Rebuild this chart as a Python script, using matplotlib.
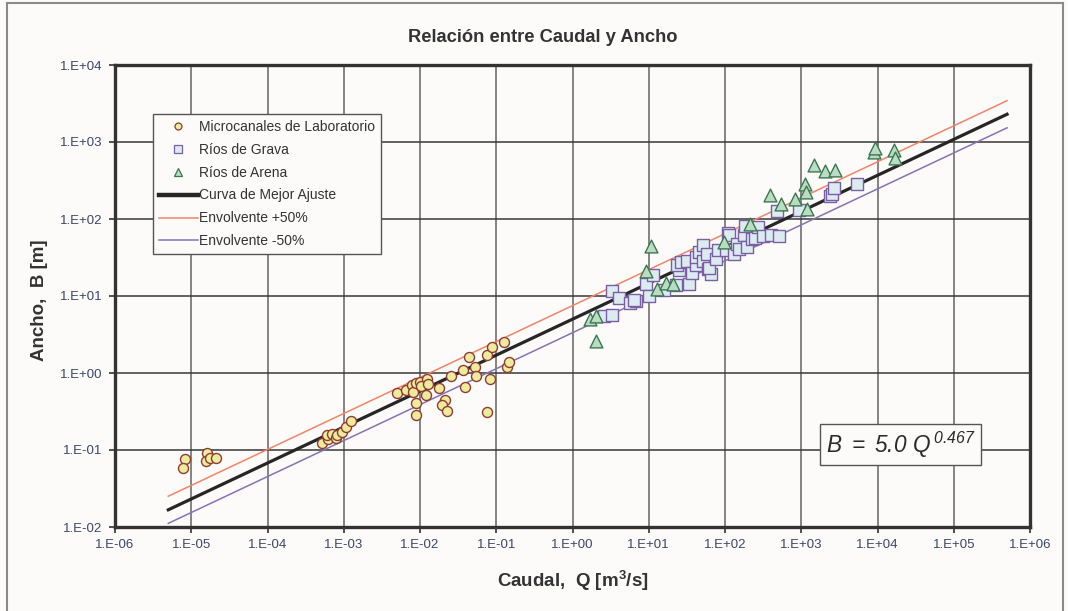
import numpy as np
import matplotlib
matplotlib.use("Agg")
import matplotlib.pyplot as plt
from matplotlib.lines import Line2D
from matplotlib.ticker import FixedLocator, FuncFormatter, NullLocator

plt.rcParams['font.family'] = ['Liberation Sans', 'DejaVu Sans']
plt.rcParams['mathtext.fontset'] = 'custom'
plt.rcParams['mathtext.it'] = 'Liberation Sans:italic'
plt.rcParams['mathtext.rm'] = 'Liberation Sans:italic'
plt.rcParams['mathtext.bf'] = 'Liberation Sans:bold'

# ---------------- data ----------------
micro_Q = [8.26e-6, 7.85e-6, 1.59e-5, 1.56e-5, 1.76e-5, 2.11e-5,
           5.21e-4, 6.14e-4, 6.01e-4, 7.05e-4, 7.80e-4, 8.20e-4, 9.53e-4, 1.07e-3, 1.26e-3,
           4.92e-3, 6.52e-3, 7.89e-3, 8.20e-3, 8.99e-3, 8.89e-3, 8.89e-3, 1.01e-2, 1.02e-2,
           1.22e-2, 1.28e-2, 1.19e-2, 1.80e-2, 2.11e-2, 1.97e-2, 2.24e-2, 2.54e-2, 3.61e-2,
           3.94e-2, 4.37e-2, 5.33e-2, 5.45e-2, 7.59e-2, 7.59e-2, 8.39e-2, 8.73e-2, 0.1265,
           0.1374, 0.149]
micro_B = [0.0759, 0.0583, 0.0906, 0.0726, 0.0787, 0.0794,
           0.124, 0.139, 0.157, 0.161, 0.142, 0.157, 0.171, 0.197, 0.240,
           0.555, 0.601, 0.698, 0.573, 0.735, 0.412, 0.288, 0.771, 0.678,
           0.828, 0.713, 0.513, 0.638, 0.442, 0.384, 0.324, 0.914, 1.084,
           0.665, 1.629, 1.208, 0.914, 1.730, 0.308, 0.828, 2.153, 2.500,
           1.208, 1.403]

grava_Q = [3.33, 4.07, 5.68, 6.87, 6.40, 2.59, 3.33, 9.29, 10.07, 11.35,
           15.8, 22.5, 24.8, 23.7, 26.1, 32.0, 33.6, 37.2, 41.1, 41.9,
           45.4, 51.3, 51.3, 58.5, 60.3, 64.6, 61.4, 76.6, 81.3, 101.6,
           110.2, 112.2, 130.6, 144.2, 151.7, 176.6, 182.0, 195.0, 227.0, 250.6,
           271.6, 312.6, 406.4, 507.0, 487.5, 926.8, 2410, 2529, 2661, 5383]
grava_B = [11.6, 9.31, 8.17, 8.51, 8.85, 5.48, 5.60, 14.2, 9.98, 18.9,
           11.8, 13.7, 21.5, 25.5, 27.6, 28.2, 14.2, 19.9, 25.0, 32.1,
           37.2, 45.5, 28.4, 35.5, 22.6, 19.5, 23.1, 29.9, 39.2, 40.0,
           66.5, 61.4, 35.5, 47.9, 40.4, 61.4, 81.1, 43.3, 55.6, 56.6,
           78.7, 60.1, 62.7, 60.1, 125.9, 129.7, 199.1, 213.8, 252.9, 288.4]

arena_Q = [1.68, 2.06, 2.06, 10.6, 9.10, 12.9, 16.6, 20.9, 96.6, 215.8,
           394.5, 544.5, 837.5, 1132, 1167, 1191, 1486, 2028, 2799, 8892,
           9354, 16255, 16749]
arena_B = [5.06, 5.48, 2.57, 44.6, 20.9, 12.2, 14.9, 14.3, 50.2, 87.1,
           203.2, 158.5, 184.1, 288.4, 224.4, 133.7, 498.9, 416.9, 429.5, 744.7,
           839.5, 781.6, 622.3]

fit_coef = 5.0
fit_exp = 0.467
env_factor = 1.5
fit_Q_range = [5e-6, 5e5]

x_ticks = [10.0 ** k for k in range(-6, 7)]
y_ticks = [10.0 ** k for k in range(-2, 5)]

# ---------------- figure ----------------
W, H = 1068, 611
bg = '#fcfbfa'
fig = plt.figure(figsize=(W / 100, H / 100), dpi=100, facecolor=bg)
ax = fig.add_axes([115 / W, 1 - 527 / H, (1030 - 115) / W, (527 - 65) / H])
ax.set_facecolor(bg)
ax.set_xscale('log')
ax.set_yscale('log')
ax.set_xlim(1e-6, 1e6)
ax.set_ylim(1e-2, 1e4)

ax.xaxis.set_major_locator(FixedLocator(x_ticks))
ax.yaxis.set_major_locator(FixedLocator(y_ticks))
ax.xaxis.set_minor_locator(NullLocator())
ax.yaxis.set_minor_locator(NullLocator())
fmt = FuncFormatter(lambda v, p: "1.E%+03d" % int(round(np.log10(v))))
ax.xaxis.set_major_formatter(fmt)
ax.yaxis.set_major_formatter(fmt)
ax.tick_params(axis='both', which='major', length=4, width=1.2, color='#333333',
               labelsize=9.5, labelcolor='#3b4766', pad=5)

ax.xaxis.grid(True, color='#6f6f6f', lw=1.2, zorder=0)
ax.yaxis.grid(True, color='#383838', lw=1.1, zorder=0)
ax.set_axisbelow(True)
for s in ax.spines.values():
    s.set_linewidth(2.4)
    s.set_color('#333333')

# fit lines
qf = np.logspace(np.log10(fit_Q_range[0]), np.log10(fit_Q_range[1]), 200)
bf = fit_coef * qf ** fit_exp
ax.plot(qf, bf * env_factor, color='#f28466', lw=1.1, zorder=3)
ax.plot(qf, bf / env_factor, color='#8573b3', lw=1.1, zorder=3)
ax.plot(qf, bf, color='#262626', lw=2.3, zorder=3)

ax.scatter(micro_Q, micro_B, s=52, marker='o', facecolor='#efeb9c', edgecolor='#8e3b34',
           linewidths=1.0, zorder=4)
ax.scatter(grava_Q, grava_B, s=70, marker='s', facecolor='#dcebf0', edgecolor='#7b5ea3',
           linewidths=1.0, zorder=4)
ax.scatter(arena_Q, arena_B, s=85, marker='^', facecolor='#b9dcc2', edgecolor='#3b7750',
           linewidths=1.0, zorder=5)

handles = [
    Line2D([], [], ls='none', marker='o', markersize=5, mfc='#efeb9c', mec='#8e3b34', mew=0.9),
    Line2D([], [], ls='none', marker='s', markersize=5.5, mfc='#dcebf0', mec='#7b5ea3', mew=0.9),
    Line2D([], [], ls='none', marker='^', markersize=6, mfc='#b9dcc2', mec='#3b7750', mew=0.9),
    Line2D([], [], color='#262626', lw=3.2),
    Line2D([], [], color='#f28466', lw=1.1),
    Line2D([], [], color='#8573b3', lw=1.1),
]
labels = ['Microcanales de Laboratorio', 'Ríos de Grava', 'Ríos de Arena',
          'Curva de Mejor Ajuste', 'Envolvente +50%', 'Envolvente -50%']
leg = ax.legend(handles, labels, loc='upper left', bbox_to_anchor=(38 / 915, (527 - 114) / 462),
                fontsize=10.0, frameon=True, fancybox=False, framealpha=1, facecolor=bg,
                edgecolor='#555555', handlelength=2.8, handletextpad=0.12, borderpad=0.42,
                labelspacing=0.64, borderaxespad=0)
leg.get_frame().set_linewidth(1.0)
for t in leg.get_texts():
    t.set_color('#333333')

ax.text((900.5 - 115) / 915, (527 - 444.5) / 462, r'$B\ =\ 5.0\ Q^{\,0.467}$',
        transform=ax.transAxes, ha='center', va='center', fontsize=16.3, color='#2b2b2b',
        zorder=6,
        bbox=dict(boxstyle='square,pad=0.25', facecolor=bg, edgecolor='#555555', lw=1.0))

fig.text(542.8 / W, 1 - 37.3 / H, 'Relación entre Caudal y Ancho', ha='center', va='center',
         fontsize=13.2, fontweight='bold', color='#333333')
fig.text(573 / W, 1 - 581 / H, r'Caudal,  Q [m$^{\mathbf{3}}$/s]', ha='center', va='center',
         fontsize=13.5, fontweight='bold', color='#333333')
fig.text(40 / W, 1 - 300 / H, 'Ancho,  B [m]', ha='center', va='center', rotation=90,
         fontsize=13.5, fontweight='bold', color='#333333')

# outer frame
fig.add_artist(Line2D([7 / W, 7 / W], [0, 1 - 3 / H], transform=fig.transFigure,
                      color='#8a8a8a', lw=1.5))
fig.add_artist(Line2D([7 / W, 1063 / W], [1 - 3 / H, 1 - 3 / H], transform=fig.transFigure,
                      color='#8a8a8a', lw=1.5))
fig.add_artist(Line2D([1063 / W, 1063 / W], [0, 1 - 3 / H], transform=fig.transFigure,
                      color='#8a8a8a', lw=1.5))

fig.savefig('out.png', dpi=100, facecolor=bg)
